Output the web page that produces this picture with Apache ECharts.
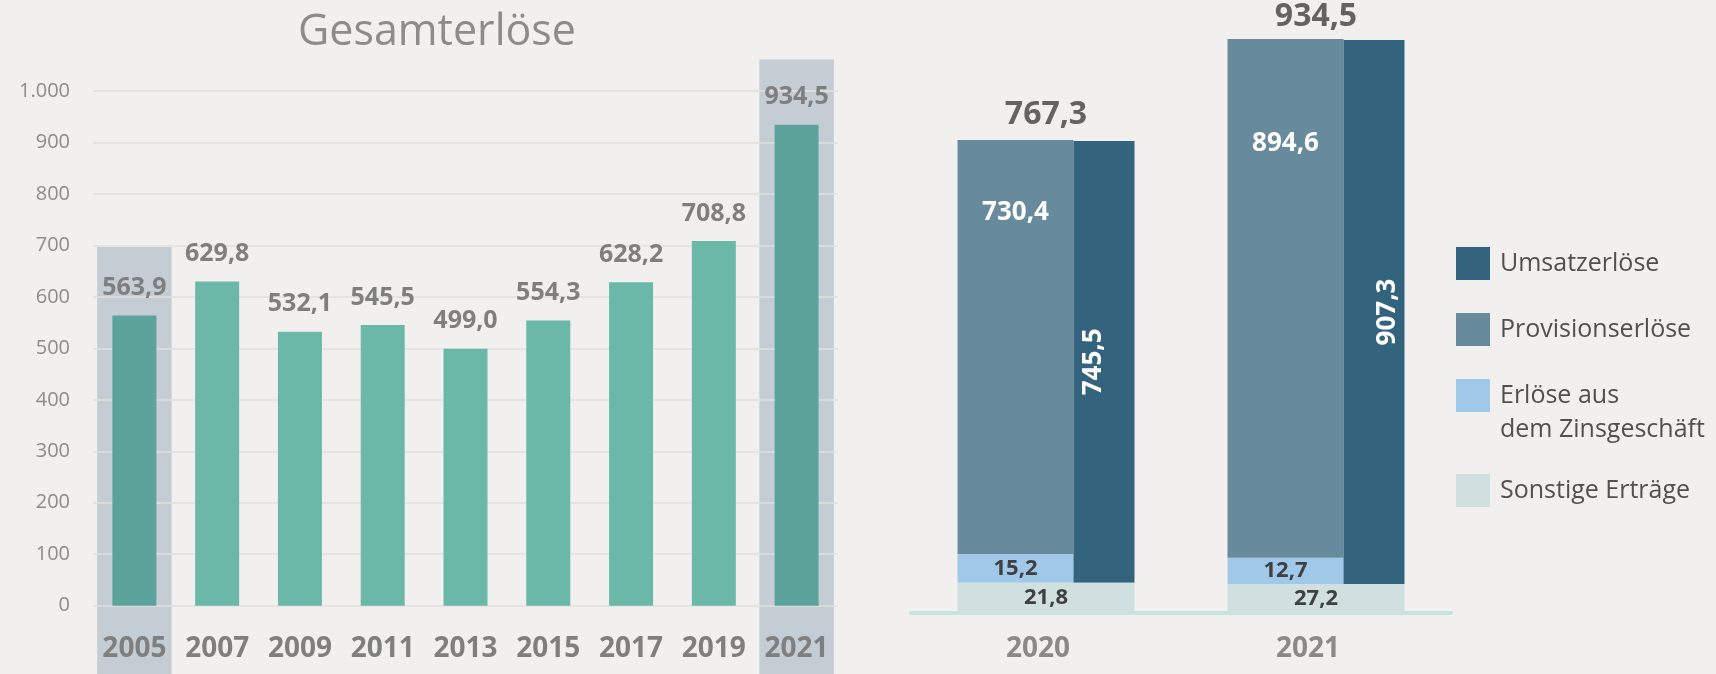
<!DOCTYPE html>
<html>
<head>
<meta charset="utf-8">
<title>Gesamterlöse</title>
<script src="https://cdn.jsdelivr.net/npm/echarts@6/dist/echarts.min.js"></script>
<style>
  html, body { margin: 0; padding: 0; background: #f1f0ee; }
  #chart { width: 1716px; height: 674px; }
</style>
</head>
<body>
<div id="chart"></div>
<script>
// Gesamterlöse 2005 - 2021
const years = ['2005', '2007', '2009', '2011', '2013', '2015', '2017', '2019', '2021']
const revenue = [563.9, 629.8, 532.1, 545.5, 499.0, 554.3, 628.2, 708.8, 934.5]
const highlightIdx = [0, 8]
const highlightTop = [697, 1061]

// Zusammensetzung 2020 / 2021 (Beschriftungen)
const splitYears = ['2020', '2021']
const totals = [767.3, 934.5]
const umsatz = [745.5, 907.3]
const provision = [730.4, 894.6]
const zins = [15.2, 12.7]
const sonstige = [21.8, 27.2]
// Balkenlängen (kleine Segmente sind dort nicht maßstäblich)
const umsatzBar = [718.6, 885.0]
const provisionBar = [673.5, 843.8]
const zinsBar = [46.7, 42.8]
const sonstigeBar = [49.3, 47.2]

const FONT = 'Open Sans'
const fmt = v => Number(v).toFixed(1).replace('.', ',')
const fmtAxis = v => String(v).replace(/\B(?=(\d{3})+$)/g, '.')

const myChart = echarts.init(document.getElementById('chart'))

// Lage der Beschriftungen (wie im Original von Hand verschoben)
const provLabelDist = [60, 92]
const umsatzLabelShift = [-10, 14]
const totalLabelDist = [10, 6]

const legendText = { fontSize: 25, lineHeight: 34, color: '#505050', padding: [0, 0, 0, 5], fontFamily: FONT }

const option = {
  animation: false,
  backgroundColor: '#f1f0ee',
  textStyle: { fontFamily: FONT },
  title: {
    text: 'Gesamterlöse',
    left: 432,
    top: 6,
    textAlign: 'center',
    textStyle: { fontSize: 43, fontWeight: 'normal', color: '#8c8c8c', fontFamily: FONT }
  },
  legend: [
    {
      data: ['Umsatzerlöse', 'Provisionserlöse'],
      orient: 'vertical',
      left: 1456,
      top: 246.5,
      padding: 0,
      itemWidth: 34,
      itemHeight: 33,
      itemGap: 32,
      icon: 'rect',
      selectedMode: false,
      textStyle: legendText
    },
    {
      data: ['Erlöse aus\ndem Zinsgeschäft', 'Sonstige Erträge'],
      // Leerzeile davor, damit die erste Zeile neben dem Kästchen steht
      formatter: name => name.indexOf('\n') >= 0 ? '\n' + name : name,
      orient: 'vertical',
      left: 1456,
      top: 344.5,
      padding: 0,
      itemWidth: 34,
      itemHeight: 33,
      itemGap: 27,
      icon: 'rect',
      selectedMode: false,
      textStyle: legendText
    }
  ],
  grid: [
    { left: 93, right: 878, top: 91, bottom: 68.3 },
    { left: 911, right: 265, top: 29, bottom: 61 }
  ],
  xAxis: [
    {
      type: 'category',
      gridIndex: 0,
      data: years,
      axisLine: { show: false },
      axisTick: { show: false },
      axisLabel: { interval: 0, color: '#7f7f7f', fontSize: 28, fontWeight: 'bold', margin: 29, fontFamily: FONT }
    },
    {
      type: 'category',
      gridIndex: 1,
      data: splitYears,
      offset: 1,
      axisLine: { lineStyle: { color: '#c6e3df', width: 4 } },
      axisTick: { show: false },
      axisLabel: { color: '#8a8a8a', fontSize: 28, fontWeight: 'bold', margin: 21, padding: [0, 16, 0, 0], fontFamily: FONT }
    },
    {
      type: 'category',
      gridIndex: 1,
      data: splitYears,
      show: false
    }
  ],
  yAxis: [
    {
      type: 'value',
      gridIndex: 0,
      min: 0,
      max: 1000,
      interval: 100,
      axisLine: { show: false },
      axisTick: { show: false },
      axisLabel: { color: '#8c8c8c', fontSize: 20, margin: 23, formatter: fmtAxis, fontFamily: FONT },
      splitLine: { lineStyle: { color: '#e2e1df', width: 1.5 } }
    },
    {
      type: 'value',
      gridIndex: 1,
      min: 0,
      max: 950,
      show: false
    }
  ],
  series: [
    {
      type: 'custom',
      xAxisIndex: 0,
      yAxisIndex: 0,
      z: -1,
      silent: true,
      clip: false,
      data: highlightIdx.map((idx, i) => [idx, highlightTop[i]]),
      renderItem(params, api) {
        const top = api.coord([api.value(0), api.value(1)])
        const w = api.size([1, 0])[0] * 0.9
        return {
          type: 'rect',
          shape: { x: top[0] - w / 2, y: top[1], width: w, height: api.getHeight() - top[1] },
          style: { fill: '#c4cdd4' }
        }
      }
    },
    {
      type: 'bar',
      name: 'Gesamterlöse',
      xAxisIndex: 0,
      yAxisIndex: 0,
      barWidth: 44,
      data: revenue,
      itemStyle: { color: p => highlightIdx.includes(p.dataIndex) ? '#5ba39b' : '#6bb8a8' },
      label: {
        show: true,
        position: 'top',
        distance: 15,
        formatter: p => fmt(p.value),
        color: '#7f7f7f',
        fontSize: 25,
        fontWeight: 'bold',
        fontFamily: FONT
      }
    },
    // linker Stapel: Zinsgeschäft + Provision auf Sonstige
    {
      type: 'bar',
      name: 'baseL',
      xAxisIndex: 1,
      yAxisIndex: 1,
      stack: 'L',
      barWidth: 116,
      barGap: 0,
      silent: true,
      data: sonstigeBar,
      itemStyle: { color: 'rgba(0,0,0,0)' }
    },
    {
      type: 'bar',
      name: 'Erlöse aus\ndem Zinsgeschäft',
      xAxisIndex: 1,
      yAxisIndex: 1,
      stack: 'L',
      barWidth: 116,
      barGap: 0,
      data: zinsBar,
      itemStyle: { color: '#a0c8e8' },
      label: {
        show: true,
        position: 'inside',
        formatter: p => fmt(zins[p.dataIndex]),
        color: '#404040',
        fontSize: 22,
        fontWeight: 'bold',
        fontFamily: FONT
      }
    },
    {
      type: 'bar',
      name: 'Provisionserlöse',
      xAxisIndex: 1,
      yAxisIndex: 1,
      stack: 'L',
      barWidth: 116,
      barGap: 0,
      data: provisionBar.map((v, i) => ({ value: v, label: { distance: provLabelDist[i] } })),
      itemStyle: { color: '#678a9c' },
      label: {
        show: true,
        position: 'insideTop',
        formatter: p => fmt(provision[p.dataIndex]),
        color: '#fff',
        fontSize: 26,
        fontWeight: 'bold',
        fontFamily: FONT
      }
    },
    // rechter Stapel: Umsatzerlöse auf Sonstige
    {
      type: 'bar',
      name: 'baseR',
      xAxisIndex: 1,
      yAxisIndex: 1,
      stack: 'R',
      barWidth: 61,
      barGap: 0,
      silent: true,
      data: sonstigeBar,
      itemStyle: { color: 'rgba(0,0,0,0)' }
    },
    {
      type: 'bar',
      name: 'Umsatzerlöse',
      xAxisIndex: 1,
      yAxisIndex: 1,
      stack: 'R',
      barWidth: 61,
      barGap: 0,
      data: umsatzBar.map((v, i) => ({ value: v, label: { offset: [0, umsatzLabelShift[i]] } })),
      itemStyle: { color: '#34637e' },
      label: {
        show: true,
        position: 'inside',
        rotate: 90,
        formatter: p => fmt(umsatz[p.dataIndex]),
        color: '#fff',
        fontSize: 26,
        fontWeight: 'bold',
        fontFamily: FONT
      }
    },
    // Sonstige Erträge über die ganze Breite
    {
      type: 'bar',
      name: 'Sonstige Erträge',
      xAxisIndex: 2,
      yAxisIndex: 1,
      barWidth: 177,
      data: sonstigeBar,
      itemStyle: { color: '#d0e0e0' },
      label: {
        show: true,
        position: 'inside',
        formatter: p => fmt(sonstige[p.dataIndex]),
        color: '#404040',
        fontSize: 22,
        fontWeight: 'bold',
        fontFamily: FONT
      }
    },
    // Summen über den Gruppen
    {
      type: 'scatter',
      xAxisIndex: 2,
      yAxisIndex: 1,
      symbolSize: 0,
      silent: true,
      data: totals.map((v, i) => ({ value: v, label: { distance: totalLabelDist[i] } })),
      label: {
        show: true,
        position: 'top',
        formatter: p => fmt(p.value),
        color: '#404040',
        fontSize: 32,
        fontWeight: 'bold',
        fontFamily: FONT
      }
    }
  ]
}

myChart.setOption(option)
window.addEventListener('resize', () => myChart.resize())
</script>
</body>
</html>
